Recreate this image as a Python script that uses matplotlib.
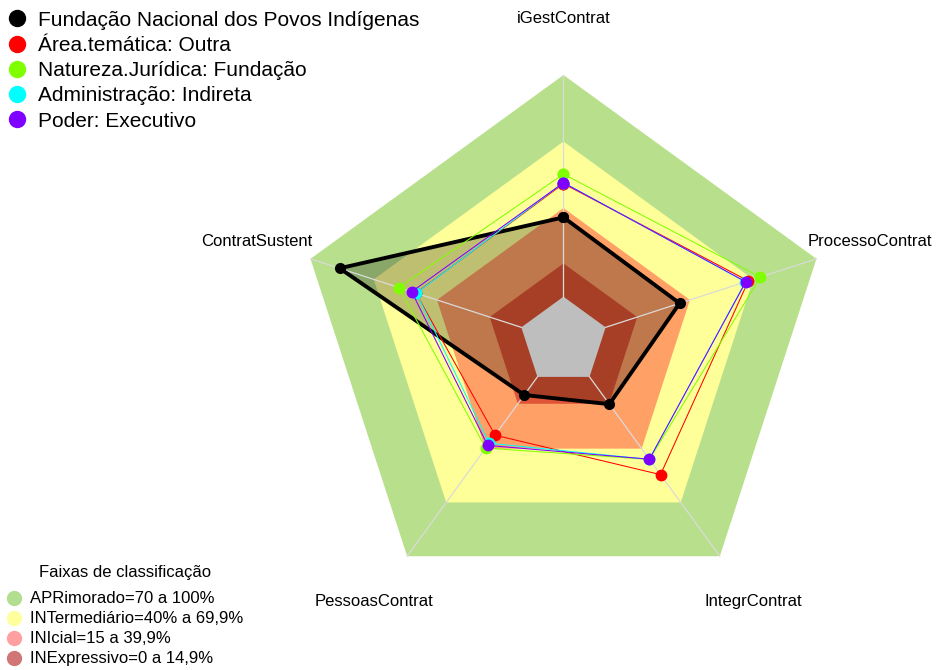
import numpy as np
import matplotlib.pyplot as plt
from matplotlib.lines import Line2D

plt.rcParams['font.family'] = ['Liberation Sans', 'DejaVu Sans']

# eixos do radar (sentido horario a partir do topo)
eixos = ['iGestContrat', 'ProcessoContrat', 'IntegrContrat', 'PessoasContrat', 'ContratSustent']

# valores (%) por serie
fundacao = [35.8, 35.1, 15.2, 10.1, 86.2]
area_tematica = [51.0, 67.7, 54.5, 32.5, 50.0]
natureza_juridica = [55.3, 73.4, 46.0, 39.7, 58.1]
administracao = [51.5, 66.3, 46.0, 37.0, 49.8]
poder = [51.4, 66.5, 45.9, 38.2, 52.0]

nomes = ['Fundação Nacional dos Povos Indígenas', 'Área.temática: Outra',
         'Natureza.Jurídica: Fundação', 'Administração: Indireta', 'Poder: Executivo']
cores = ['black', '#ff0000', '#80ff00', '#00ffff', '#8000ff']

# faixas de classificacao
faixas_lim = [100, 70, 40, 15]
faixas_cores = ['#b8e08c', '#ffff99', '#ffa066', '#e05535']
faixas_nomes = ['APRimorado=70 a 100%', 'INTermediário=40% a 69,9%',
                'INIcial=15 a 39,9%', 'INExpressivo=0 a 14,9%']
faixas_leg_cores = ['#b3de8f', '#ffff9e', '#ff9f9f', '#d17676']

theta = np.deg2rad(np.arange(len(eixos)) * 72)
theta_f = np.append(theta, theta[0])

def fechar(v):
    return np.append(v, v[0])

fig = plt.figure(figsize=(9.36, 6.7), dpi=100)
ax = fig.add_axes([0.3178, 0.094, 0.5684, 0.794], projection='polar')
ax.set_theta_zero_location('N')
ax.set_theta_direction(-1)
ax.set_ylim(0, 100)
ax.set_rorigin(-20)
ax.axis('off')

# faixas de fundo
for lim, cor in zip(faixas_lim, faixas_cores):
    ax.fill(theta_f, [lim] * 6, color=cor, lw=0, zorder=1, clip_on=False)

# preenchimento da serie principal
ax.fill(theta_f, fechar(fundacao), color='black', alpha=0.25, lw=0, zorder=2, clip_on=False)

# centro cinza
ax.fill(theta_f, [0] * 6, color='#bebebe', lw=0, zorder=3, clip_on=False)

# linhas dos eixos
for t in theta:
    ax.plot([t, t], [0, 100], color='#dadada', lw=0.9, zorder=4, clip_on=False)

series = [fundacao, area_tematica, natureza_juridica, administracao, poder]
for i, (vals, cor) in enumerate(zip(series, cores)):
    lw = 2.8 if i == 0 else 0.75
    ms = 7 if i == 0 else 7.5
    ax.plot(theta_f, fechar(vals), color=cor, lw=lw, marker='o', ms=ms,
            zorder=5 + i, clip_on=False)

for t, nome in zip(theta, eixos):
    ax.text(t, 125.5, nome, ha='center', va='center', fontsize=12, clip_on=False)

# legenda das series
handles = [Line2D([], [], ls='none', marker='o', ms=11.5, color=c) for c in cores]
fig.legend(handles, nomes, loc='upper left', bbox_to_anchor=(0, 0.998), frameon=False,
           fontsize=15, handlelength=0.75, handletextpad=0.6, labelspacing=0.3,
           borderaxespad=0.2, borderpad=0.25)

# legenda das faixas
handles2 = [Line2D([], [], ls='none', marker='o', ms=10, color=c) for c in faixas_leg_cores]
fig.legend(handles2, faixas_nomes, loc='lower left', bbox_to_anchor=(0, -0.0045), frameon=False,
           fontsize=12, handlelength=0.85, handletextpad=0.55, labelspacing=0.3,
           borderaxespad=0.2, borderpad=0.2)
fig.text(125 / 936, 1 - 572 / 670, 'Faixas de classificação', ha='center', va='center',
         fontsize=12)

plt.savefig('out.png', dpi=100)
